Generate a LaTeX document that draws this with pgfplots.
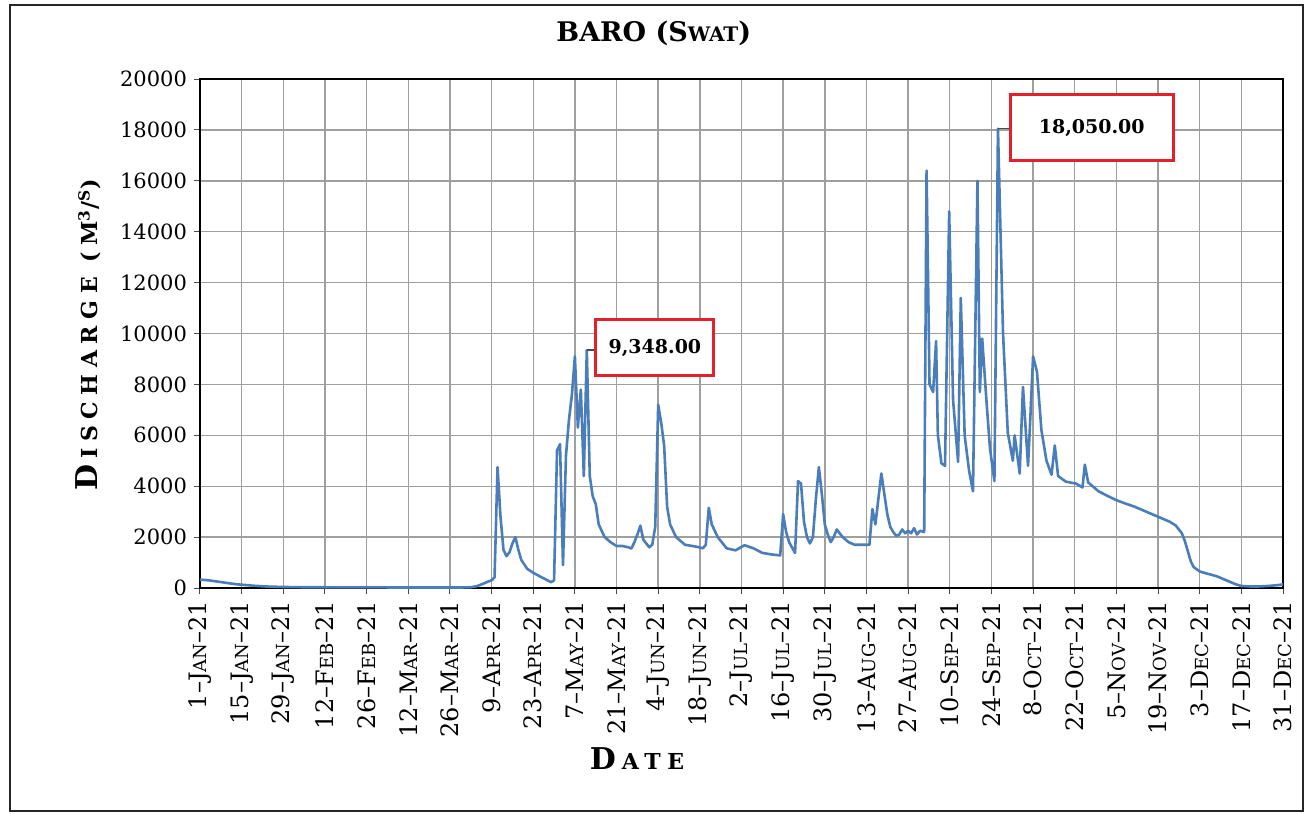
\documentclass[border=0pt]{standalone}
\usepackage{fontspec}
\setmainfont{DejaVu Serif}
\newfontfamily\spc[LetterSpace=30]{DejaVu Serif}
\usepackage{pgfplots}
\pgfplotsset{compat=1.18}

\definecolor{baroblue}{RGB}{74,126,187}
\definecolor{boxred}{RGB}{228,32,42}
% fake small caps: first letter full size, rest smaller capitals
\newcommand{\mo}[2]{#1{\fontsize{9}{10}\selectfont #2}}

\begin{document}
\begin{tikzpicture}
\useasboundingbox (-100pt,-113pt) rectangle (553.5pt,294pt);
\draw[line width=1pt, black!85] (-95pt,-111.5pt) rectangle (551.5pt,291.5pt);
\begin{axis}[
  scale only axis,
  width=541.5pt, height=254.5pt,
  xmin=0, xmax=364, ymin=0, ymax=20000,
  xtick={0,14,...,364},
  ytick={0,2000,...,20000},
  scaled y ticks=false,
  xticklabels={1--\mo{J}{AN}--21, 15--\mo{J}{AN}--21, 29--\mo{J}{AN}--21,
    12--\mo{F}{EB}--21, 26--\mo{F}{EB}--21, 12--\mo{M}{AR}--21, 26--\mo{M}{AR}--21,
    9--\mo{A}{PR}--21, 23--\mo{A}{PR}--21, 7--\mo{M}{AY}--21, 21--\mo{M}{AY}--21,
    4--\mo{J}{UN}--21, 18--\mo{J}{UN}--21, 2--\mo{J}{UL}--21, 16--\mo{J}{UL}--21,
    30--\mo{J}{UL}--21, 13--\mo{A}{UG}--21, 27--\mo{A}{UG}--21, 10--\mo{S}{EP}--21,
    24--\mo{S}{EP}--21, 8--\mo{O}{CT}--21, 22--\mo{O}{CT}--21, 5--\mo{N}{OV}--21,
    19--\mo{N}{OV}--21, 3--\mo{D}{EC}--21, 17--\mo{D}{EC}--21, 31--\mo{D}{EC}--21},
  xticklabel style={font=\fontsize{12}{14}\selectfont, rotate=90, anchor=east},
  yticklabel style={font=\fontsize{10.5}{12}\selectfont},
  /pgf/number format/1000 sep={},
  /pgf/number format/assume math mode=true,
  grid=major,
  major grid style={gray!75, line width=0.7pt},
  axis line style={line width=1pt},
  tick align=outside,
  xtick pos=left, ytick pos=left,
  major tick length=3pt,
  tick style={black!70, line width=0.5pt},
  title={\bfseries\fontsize{13.5}{16}\selectfont BARO (S{\fontsize{10}{12}\selectfont WAT})},
  title style={at={(axis description cs:0.419,1.067)}, anchor=center},
  ylabel={\spc\bfseries\fontsize{15}{17}\selectfont D\hspace{3pt}{\fontsize{11}{13}\selectfont ISCHARGE (M\textsuperscript{3}/\textsuperscript{S})}},
  ylabel style={at={(axis description cs:-0.103,0.497)}, anchor=center},
  xlabel={\spc\bfseries\fontsize{15}{17}\selectfont D\hspace{3pt}{\fontsize{11}{13}\selectfont ATE}},
  xlabel style={at={(axis description cs:0.4035,-0.335)}, anchor=center},
]
\addplot[line width=1.3pt, color=baroblue, line join=round] coordinates {
(0,330) (3,300) (6,250) (9,200) (12,150) (15,120) (18,90) (22,60) (28,40) (35,30)
(50,25) (70,20) (88,20) (91,30) (93,70) (95,160) (97,260) (98,300) (99,420)
(100,4750) (101,2800) (102,1500) (103,1250) (104,1400) (105,1750) (106,2000)
(107,1500) (108,1100) (110,750) (112,600) (114,470) (116,350) (118,230) (119,300)
(120,5400) (121,5650) (122,900) (123,5200) (124,6600) (125,7600) (126,9100)
(127,6300) (128,7800) (129,4400) (130,9348) (131,4400) (132,3600) (133,3300)
(134,2500) (136,2000) (138,1800) (140,1650) (142,1650) (144,1600) (145,1550)
(146,1800) (147,2100) (148,2450) (149,1900) (150,1750) (151,1600) (152,1700)
(153,2400) (154,7200) (155,6500) (156,5600) (157,3200) (158,2500) (160,2000)
(163,1700) (167,1620) (169,1560) (170,1700) (171,3150) (172,2500) (174,2000)
(177,1560) (180,1480) (183,1680) (186,1560) (189,1380) (192,1320) (195,1280)
(196,2900) (197,2200) (198,1800) (200,1380) (201,4200) (202,4100) (203,2600)
(204,2000) (205,1750) (206,2000) (207,3500) (208,4750) (209,3700) (210,2500)
(211,2100) (212,1800) (213,2000) (214,2300) (216,2000) (218,1800) (220,1700)
(222,1700) (225,1700) (226,3100) (227,2500) (228,3500) (229,4500) (230,3700)
(231,2900) (232,2400) (233,2200) (234,2050) (235,2100) (236,2300) (237,2150)
(238,2250) (239,2150) (240,2350) (241,2100) (242,2250) (243.4,2200)
(244.2,16400) (245.2,8000) (246.4,7700) (247.4,9700) (248,6000) (249.2,4900)
(250.4,4800) (251.8,14800) (253.1,7400) (254.8,4950) (255.7,11400) (257,6000)
(258.5,4600) (259.8,3800) (261.3,16000) (262.1,7700) (262.9,9800) (264.3,7400)
(265.5,5500) (267,4200) (268.2,18050) (269.9,10000) (271.5,6100) (273.2,5000)
(273.8,6000) (275.5,4500) (276.6,7900) (278.3,4800) (279,6500) (280,9100)
(281.3,8500) (282.8,6200) (284.5,5000) (286.2,4450) (287.3,5600) (288.4,4400)
(291,4180) (294.5,4100) (296.6,3950) (297.4,4850) (298.5,4150) (302,3800)
(305,3620) (308,3450) (311,3320) (314,3200) (317,3050) (320,2900) (323,2750)
(326,2600) (328,2450) (330,2150) (331,1850) (332,1450) (333,1050) (334,820)
(336,650) (338,580) (340,520) (342,450) (344,350) (346,250) (348,150) (350,80)
(353,60) (356,60) (359,80) (362,110) (364,140)
};
\draw[black!70, line width=0.6pt] (axis cs:130,9348) -- (axis cs:132.5,9348);
\node[draw=boxred, line width=1.5pt, fill=white, minimum width=59pt, minimum height=28pt,
  font=\bfseries\fontsize{9.5}{11}\selectfont] at (axis cs:152.9,9436) {9,348.00};
\draw[black!70, line width=0.6pt] (axis cs:268.2,18050) -- (axis cs:272.5,18050);
\node[draw=boxred, line width=1.5pt, fill=white, minimum width=81.5pt, minimum height=33pt,
  font=\bfseries\fontsize{9.5}{11}\selectfont] at (axis cs:299.7,18085) {18,050.00};
\end{axis}
\end{tikzpicture}
\end{document}
